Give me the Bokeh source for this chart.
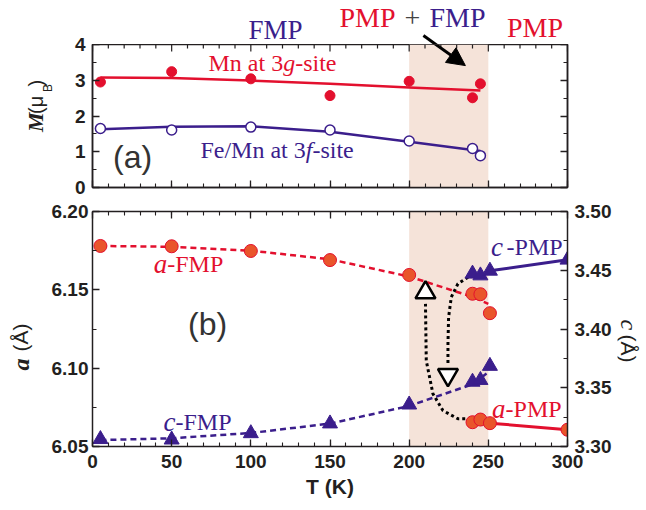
import math
from bokeh.plotting import figure
from bokeh.layouts import column, row
from bokeh.models import (Range1d, LinearAxis, SingleIntervalTicker, PrintfTickFormatter,
                          BoxAnnotation, Label, Arrow, NormalHead)
from bokeh.embed import file_html
from bokeh.resources import INLINE

# ---------------- data: panel (a) ----------------
T_top = [5, 50, 100, 150, 200, 240, 245]
mn_3g = [2.95, 3.24, 3.04, 2.57, 2.97, 2.51, 2.90]
mn_3g_err = [0.05, 0.05, 0.05, 0.14, 0.06, 0.13, 0.05]
fe_3f = [1.65, 1.61, 1.69, 1.61, 1.30, 1.09, 0.89]
fe_3f_err = [0.04, 0.04, 0.04, 0.10, 0.04, 0.12, 0.04]
T_top_fit = [5, 50, 100, 150, 200, 245]
mn_fit = [3.08, 3.06, 2.99, 2.90, 2.80, 2.71]
fe_fit = [1.63, 1.70, 1.71, 1.56, 1.28, 1.02]
M_ticks = [0, 1, 2, 3, 4]

# ---------------- data: panel (b) ----------------
T_fmp = [5, 50, 100, 150, 200, 240, 245, 251]
a_fmp = [6.178, 6.1778, 6.1748, 6.169, 6.1595, 6.1475, 6.1472, 6.1351]
c_fmp = [3.3062, 3.3058, 3.3112, 3.3195, 3.3356, 3.355, 3.3565, 3.3685]
T_pmp = [240, 245, 251, 300]
a_pmp = [6.0655, 6.0672, 6.0649, 6.0607]
c_pmp = [3.447, 3.4455, 3.4495, 3.4589]
T_fit = [5, 50, 100, 150, 200, 240, 250]
a_fit = [6.178, 6.1775, 6.175, 6.1695, 6.1585, 6.1455, 6.1411]
c_fit = [3.3055, 3.307, 3.3115, 3.3195, 3.3345, 3.353, 3.3632]
loop_up_T = [239.2, 230.8, 221.3, 215.0, 210.8, 210.3]
loop_up_c = [3.3238, 3.3236, 3.3306, 3.3449, 3.373, 3.4214]
loop_down_T = [237.2, 230.8, 226.6, 224.9, 224.5, 224.5]
loop_down_c = [3.4441, 3.4385, 3.4271, 3.41, 3.3874, 3.3704]
two_phase = [200, 250]
T_ticks = list(range(0, 301, 10))

RED = "#E3102E"
PURPLE = "#3B1E8C"
ORANGE = "#E9552B"
SHADE = "#F5E3D9"
AXIS = "#231F20"
SANS = "Liberation Sans"
SERIF = "Liberation Serif"

xr = Range1d(0, 300)
PX_PER_M = 35.75  # panel (a): 143 px frame for 4 units


def style_axis(ax, interval, nminor, show_labels=True, fmt=None):
    ax.ticker = SingleIntervalTicker(interval=interval, num_minor_ticks=nminor)
    ax.axis_line_color = AXIS
    ax.axis_line_width = 1.5
    ax.major_tick_line_color = AXIS
    ax.minor_tick_line_color = AXIS
    ax.major_tick_line_width = 1.3
    ax.minor_tick_line_width = 1.1
    ax.major_tick_in = 7
    ax.major_tick_out = 0
    ax.minor_tick_in = 4
    ax.minor_tick_out = 0
    if show_labels:
        ax.major_label_text_font = SANS
        ax.major_label_text_font_style = "bold"
        ax.major_label_text_font_size = "19px"
        ax.major_label_text_color = AXIS
        ax.major_label_standoff = 5
        if fmt:
            ax.formatter = PrintfTickFormatter(format=fmt)
    else:
        ax.major_label_text_font_size = "0px"
        ax.major_label_standoff = 0


def txt(p, x, y, text, size, color, font=SERIF, style="normal", align="center",
        baseline="middle", angle=0.0, yr="default"):
    p.add_layout(Label(x=x, y=y, text=text, text_font=font, text_font_size=size,
                       text_font_style=style, text_color=color, text_align=align,
                       text_baseline=baseline, angle=angle, y_range_name=yr))


def strip(w, h, x0, x1, ybot, ytop):
    s = figure(title=None, frame_width=w, frame_height=h, x_range=Range1d(x0, x1),
               y_range=Range1d(ybot, ytop), output_backend="svg", toolbar_location=None,
               x_axis_location=None, y_axis_location=None, min_border=0)
    s.grid.visible = False
    s.outline_line_color = None
    return s


def mk_arrow():
    return Arrow(end=NormalHead(size=18, fill_color="black", line_color="black"),
                 x_start=209.0, y_start=4.25, x_end=235.5, y_end=3.41,
                 line_color="black", line_width=3)


# ================= header (texts above panel a) =================
header = figure(title=None, width=558, height=44, x_range=xr,
                y_range=Range1d(4, 4 + 44 / PX_PER_M),
                output_backend="svg", toolbar_location=None, x_axis_location=None,
                y_axis_location=None, min_border_left=4, min_border_right=79,
                min_border_top=0, min_border_bottom=0)
header.grid.visible = False
header.outline_line_color = None
txt(header, 115.6, 4.40, "FMP", "27px", PURPLE)
txt(header, 156.0, 4.755, "PMP", "28px", RED, align="left")
txt(header, 202.1, 4.755, "+", "28px", "#444444")
txt(header, 248.2, 4.755, "FMP", "28px", PURPLE, align="right")
txt(header, 279.5, 4.48, "PMP", "28px", RED)
header.add_layout(mk_arrow())

# ================= top panel =================
top = figure(title=None, width=558, height=155, x_range=xr, y_range=Range1d(0, 4),
             output_backend="svg", toolbar_location=None,
             min_border_left=4, min_border_right=79, min_border_top=0, min_border_bottom=12)
top.grid.visible = False
top.outline_line_color = AXIS
top.outline_line_width = 1.5
style_axis(top.xaxis[0], 50, 5, show_labels=False)
style_axis(top.yaxis[0], 1, 2, show_labels=False)
ax_r = LinearAxis()
style_axis(ax_r, 1, 2, show_labels=False)
top.add_layout(ax_r, "right")
top.add_layout(BoxAnnotation(left=two_phase[0], right=two_phase[1], fill_color=SHADE,
                             fill_alpha=1.0, line_color=None, level="underlay"))
tick_len = [0.196 if t % 50 == 0 else 0.112 for t in T_ticks]
top.segment(x0=T_ticks, x1=T_ticks, y0=[4 - L for L in tick_len], y1=[4] * len(T_ticks),
            line_color=AXIS, line_width=1.2)

top.line(T_top_fit, mn_fit, line_color=RED, line_width=2.5)
top.line(T_top_fit, fe_fit, line_color=PURPLE, line_width=2.5)
top.segment(x0=T_top, x1=T_top, y0=[v - e for v, e in zip(mn_3g, mn_3g_err)],
            y1=[v + e for v, e in zip(mn_3g, mn_3g_err)], line_color=RED, line_width=1.2)
top.segment(x0=T_top, x1=T_top, y0=[v - e for v, e in zip(fe_3f, fe_3f_err)],
            y1=[v + e for v, e in zip(fe_3f, fe_3f_err)], line_color=PURPLE, line_width=1.2)
top.scatter(T_top, mn_3g, marker="circle", size=10, fill_color=RED, line_color=RED)
top.scatter(T_top, fe_3f, marker="circle", size=10, fill_color="white", line_color=PURPLE,
            line_width=1.5)

txt(top, 120.4, 3.483, "Mn at 3", "24px", RED, align="right")
txt(top, 120.4, 3.483, "g", "24px", RED, style="italic", align="left")
txt(top, 128.0, 3.483, "-site", "24px", RED, align="left")
txt(top, 134.7, 1.049, "Fe/Mn at 3", "24px", PURPLE, align="right")
txt(top, 134.7, 1.049, "f", "24px", PURPLE, style="italic", align="left")
txt(top, 138.9, 1.049, "-site", "24px", PURPLE, align="left")
txt(top, 25.3, 0.84, "(a)", "32px", "#333333", font=SANS)
top.add_layout(mk_arrow())

# left strip of panel (a): tick labels and the y title M(muB); y in M units
s_tl = strip(88, 199, 0, 88, (187 - 199) / PX_PER_M, 187 / PX_PER_M)
for v in M_ticks:
    txt(s_tl, 85, v, str(v), "19px", AXIS, font=SANS, style="bold", align="right")
txt(s_tl, 35, 1.552, "M", "22px", AXIS, style="bold italic", align="left", angle=math.pi / 2)
txt(s_tl, 35, 2.056, "(\u03bc", "20px", AXIS, font=SANS, align="left", angle=math.pi / 2)
txt(s_tl, 47.5, 2.671, "B", "12px", AXIS, font=SANS, align="left", angle=math.pi / 2)
txt(s_tl, 35, 2.825, ")", "20px", AXIS, font=SANS, align="left", angle=math.pi / 2)

# ================= bottom panel =================
bot = figure(title=None, width=577, height=311, x_range=xr, y_range=Range1d(6.05, 6.20),
             output_backend="svg", toolbar_location=None,
             min_border_left=52, min_border_right=50, min_border_top=12, min_border_bottom=64)
bot.grid.visible = False
bot.outline_line_color = None
bot.extra_y_ranges = {"c": Range1d(3.30, 3.50)}
style_axis(bot.xaxis[0], 50, 5)
bot.xaxis[0].major_label_standoff = 8
bot.xaxis[0].axis_label = "T (K)"
bot.xaxis[0].axis_label_text_font = SANS
bot.xaxis[0].axis_label_text_font_style = "bold"
bot.xaxis[0].axis_label_text_font_size = "21px"
bot.xaxis[0].axis_label_text_color = AXIS
bot.xaxis[0].axis_label_standoff = 4
style_axis(bot.yaxis[0], 0.05, 2, fmt="%.2f")
bot.yaxis[0].major_label_standoff = 4
ax_bt = LinearAxis()
style_axis(ax_bt, 50, 5, show_labels=False)
bot.add_layout(ax_bt, "above")
ax_c = LinearAxis(y_range_name="c")
style_axis(ax_c, 0.05, 2, fmt="%.2f")
ax_c.major_label_standoff = 7
bot.add_layout(ax_c, "right")
bot.add_layout(BoxAnnotation(left=two_phase[0], right=two_phase[1], fill_color=SHADE,
                             fill_alpha=1.0, line_color=None, level="underlay"))

bot.line(T_fit, a_fit, line_color=RED, line_width=2.5, line_dash="6 4")
bot.line(T_fit, c_fit, line_color=PURPLE, line_width=2.5, line_dash="6 4", y_range_name="c")
bot.line(T_pmp[2:], a_pmp[2:], line_color=RED, line_width=3)
bot.line(T_pmp[2:], c_pmp[2:], line_color=PURPLE, line_width=3, y_range_name="c")
bot.line(loop_up_T, loop_up_c, line_color="black", line_width=3, line_dash="3 3", y_range_name="c")
bot.line(loop_down_T, loop_down_c, line_color="black", line_width=3, line_dash="3 3", y_range_name="c")
bot.scatter(T_fmp, a_fmp, marker="circle", size=13, fill_color=ORANGE, line_color=RED, line_width=1)
bot.scatter(T_pmp, a_pmp, marker="circle", size=13, fill_color=ORANGE, line_color=RED, line_width=1)
bot.scatter(T_fmp, c_fmp, marker="triangle", size=15, fill_color=PURPLE, line_color=PURPLE,
            y_range_name="c")
bot.scatter(T_pmp, c_pmp, marker="triangle", size=15, fill_color=PURPLE, line_color=PURPLE,
            y_range_name="c")
bot.scatter([loop_up_T[-1]], [3.431], marker="triangle", size=20, fill_color="white",
            line_color="black", line_width=2.5, y_range_name="c")
bot.scatter([loop_down_T[-1]], [3.361], marker="inverted_triangle", size=20, fill_color="white",
            line_color="black", line_width=2.5, y_range_name="c")

txt(bot, 47.2, 6.1668, "a", "27px", RED, style="italic", align="right")
txt(bot, 47.2, 6.1668, "-FMP", "24px", RED, align="left")
txt(bot, 52.4, 3.321, "c", "27px", PURPLE, style="italic", align="right", yr="c")
txt(bot, 52.4, 3.321, "-FMP", "24px", PURPLE, align="left", yr="c")
txt(bot, 259.3, 3.4694, "c", "27px", PURPLE, style="italic", align="right", yr="c")
txt(bot, 261.5, 3.4694, "-PMP", "24px", PURPLE, align="left", yr="c")
txt(bot, 260.9, 6.0738, "a", "27px", RED, style="italic", align="right")
txt(bot, 260.9, 6.0738, "-PMP", "24px", RED, align="left")
txt(bot, 72.7, 6.1279, "(b)", "32px", "#333333", font=SANS)

# side strips with the axis titles a (Å) and c (Å) (page pixel coordinates, flipped y)
s_bl = strip(40, 311, 0, 40, 510, 199)
txt(s_bl, 20, 358, "a", "24px", AXIS, style="bold italic", align="left", angle=math.pi / 2)
txt(s_bl, 20, 339, "(\u00c5)", "21px", AXIS, font=SANS, align="left", angle=math.pi / 2)
s_br = strip(29, 311, 617, 646, 510, 199)
txt(s_br, 628, 307, "c", "24px", AXIS, style="italic", align="left", angle=-math.pi / 2)
txt(s_br, 628, 322, "(\u00c5)", "21px", AXIS, font=SANS, align="left", angle=-math.pi / 2)

layout = column(row(s_tl, column(header, top, spacing=0), spacing=0),
                row(s_bl, bot, s_br, spacing=0), spacing=0)
open("out.html", "w").write(file_html(layout, INLINE))
